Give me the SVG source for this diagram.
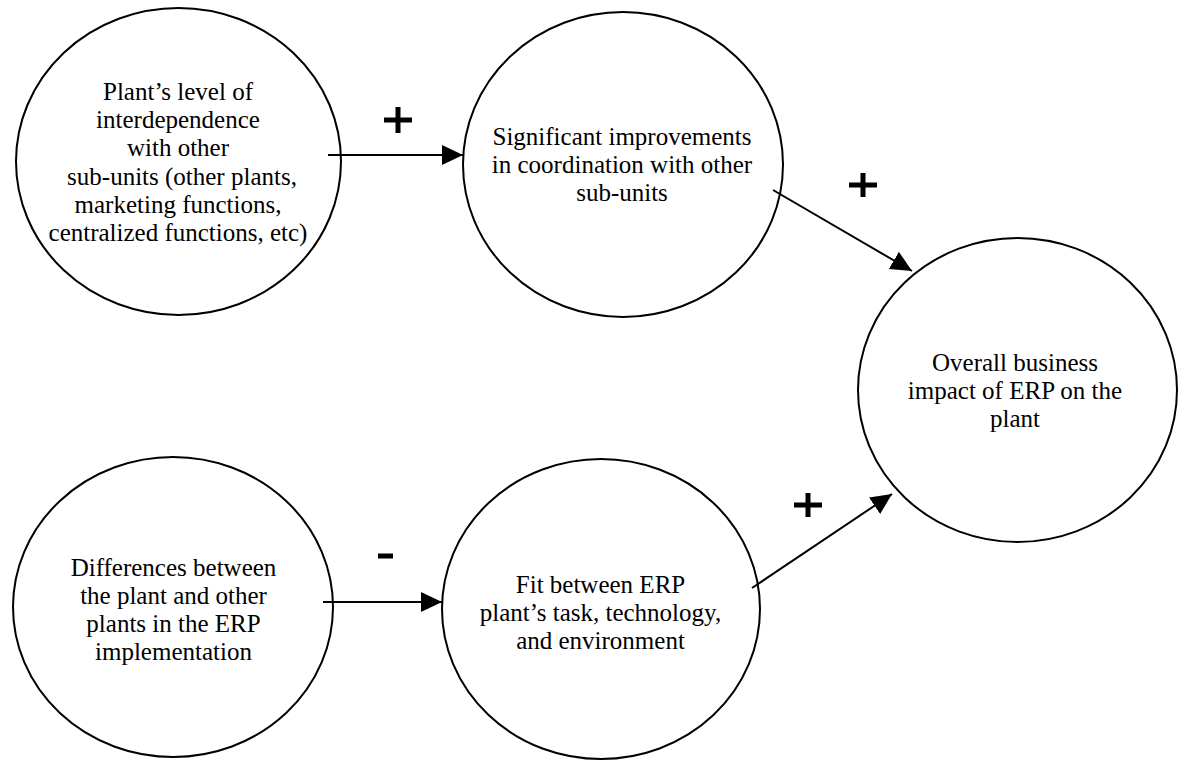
<svg xmlns="http://www.w3.org/2000/svg" width="1178" height="761" viewBox="0 0 1178 761">
<style>
.node ellipse { fill: #fff; stroke: #000; stroke-width: 2; }
.node text { font-family: "Liberation Serif", "Times New Roman", serif; font-size: 25px; fill: #000; text-anchor: middle; }
.conn line { stroke: #000; stroke-width: 2; }
.sign { fill: #000; }
</style>
<defs>
<marker id="arrow" markerUnits="userSpaceOnUse" markerWidth="22" markerHeight="22" refX="21" refY="10" orient="auto">
<path d="M0,0 L21,10 L0,20 z" fill="#000"/>
</marker>
</defs>
<rect width="1178" height="761" fill="#fff"/>
<g id="n1" class="node">
<ellipse cx="178.5" cy="161.5" rx="162.5" ry="153.5"/>
<text x="178" y="100">Plant’s level of</text>
<text x="178" y="128">interdependence</text>
<text x="178" y="156">with other</text>
<text x="182" y="185">sub-units (other plants,</text>
<text x="178" y="213">marketing functions,</text>
<text x="178" y="241">centralized functions, etc)</text>
</g>
<g id="n2" class="node">
<ellipse cx="623" cy="164.5" rx="160" ry="152.5"/>
<text x="622" y="145">Significant improvements</text>
<text x="622" y="173">in coordination with other</text>
<text x="622" y="201">sub-units</text>
</g>
<g id="n3" class="node">
<ellipse cx="1017.5" cy="390" rx="159.5" ry="152"/>
<text x="1015" y="371">Overall business</text>
<text x="1015" y="399">impact of ERP on the</text>
<text x="1015" y="427">plant</text>
</g>
<g id="n4" class="node">
<ellipse cx="173" cy="607" rx="160" ry="150"/>
<text x="173.5" y="576">Differences between</text>
<text x="173.5" y="604">the plant and other</text>
<text x="173.5" y="632">plants in the ERP</text>
<text x="173.5" y="660">implementation</text>
</g>
<g id="n5" class="node">
<ellipse cx="601" cy="609" rx="159" ry="150"/>
<text x="600.5" y="593">Fit between ERP</text>
<text x="600.5" y="621">plant’s task, technology,</text>
<text x="600.5" y="649">and environment</text>
</g>
<g id="connectors" class="conn">
<line x1="328" y1="155" x2="463" y2="155" marker-end="url(#arrow)"/>
<line x1="773" y1="190" x2="912" y2="271" marker-end="url(#arrow)"/>
<line x1="752" y1="588" x2="892" y2="494" marker-end="url(#arrow)"/>
<line x1="323" y1="602" x2="442" y2="602" marker-end="url(#arrow)"/>
<g id="labels" class="sign">
<rect x="384" y="117.5" width="28" height="5"/>
<rect x="395.5" y="107" width="5" height="26"/>
<rect x="849" y="182.5" width="28" height="5"/>
<rect x="860.5" y="173" width="5" height="24"/>
<rect x="794" y="502.5" width="28" height="5"/>
<rect x="805.5" y="493" width="5" height="24"/>
<rect x="378" y="553.5" width="15" height="5"/>
</g>
</g>
</svg>
